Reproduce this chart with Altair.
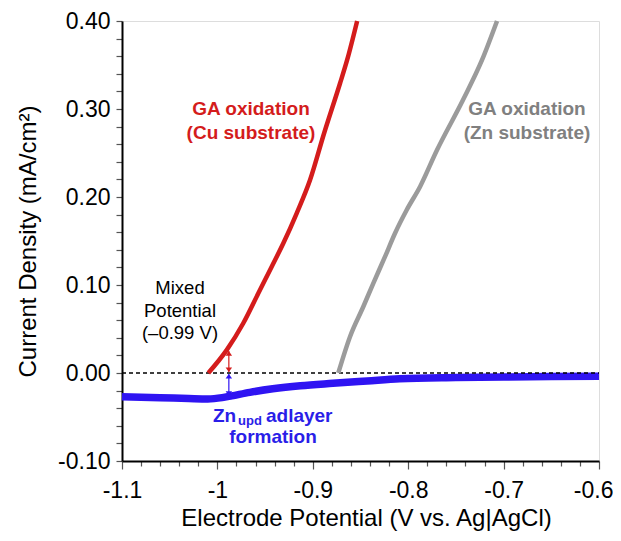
import altair as alt
import pandas as pd

# ---- data ----
cu_v = [-1.0095, -0.9903, -0.9729, -0.9571, -0.9431, -0.9309, -0.9169, -0.9029, -0.888, -0.8715, -0.864, -0.8535]
cu_i = [0.000, 0.026, 0.0565, 0.0906, 0.1208, 0.1474, 0.1815, 0.2193, 0.273, 0.329, 0.3557, 0.400]

zn_v = [-0.8733, -0.8610, -0.8471, -0.8366, -0.8243, -0.8138, -0.8016, -0.7876, -0.7698, -0.7426, -0.7226, -0.7069]
zn_i = [0.000, 0.0413, 0.0753, 0.1019, 0.1322, 0.1588, 0.1852, 0.2117, 0.2534, 0.3102, 0.3557, 0.400]

bl_v = [-1.100, -1.060, -1.030, -1.010, -0.995, -0.985, -0.966, -0.942, -0.913, -0.879, -0.843, -0.809, -0.750, -0.700, -0.650, -0.600]
bl_i = [-0.027, -0.028, -0.029, -0.0295, -0.028, -0.026, -0.022, -0.018, -0.0145, -0.0117, -0.009, -0.0065, -0.0052, -0.0045, -0.004, -0.0037]

zero_v = [-1.1, -0.6]
zero_i = [0.0, 0.0]

x_ticks = [round(-1.1 + 0.02 * k, 2) for k in range(26)]
y_ticks = [round(0.02 * k, 2) for k in range(-5, 21)]

# annotations
cu_text = ["GA oxidation", "(Cu substrate)"]
zn_text = ["GA oxidation", "(Zn substrate)"]
lab_y = [0.300, 0.2727]
mixed_text = ["Mixed", "Potential", "(\u20130.99 V)"]
mixed_y = [0.0966, 0.0705, 0.0455]

RED = "#d41c1c"
GRAY_LINE = "#9b9b9b"
GRAY_TEXT = "#808080"
BLUE = "#2f14f2"
BLUE_TEXT = "#2a1ee8"
FONT = "Liberation Sans"

xs = alt.Scale(domain=[-1.1, -0.6], nice=False, zero=False)
ys = alt.Scale(domain=[-0.1, 0.4], nice=False, zero=False)

major = "abs(datum.value*10 - round(datum.value*10)) < 0.001"

x_axis = alt.Axis(
    values=x_ticks,
    tickCount=200,
    labelExpr=f"{major} ? toString(round(datum.value*10)/10) : ''",
    tickSize={"condition": {"test": major, "value": 8}, "value": 5},
    labelAlign={"condition": {"test": "datum.value > -0.61", "value": "right"}, "value": "center"},
    labelOffset={"condition": {"test": "datum.value > -0.61", "value": 14}, "value": 0},
    labelOverlap=False,
    labelFont=FONT, labelFontSize=23, labelColor="black",
    labelBaseline="middle", labelPadding=21,
    tickColor="#555", tickWidth=1.2,
    domainColor="black", domainWidth=2,
    grid=False,
    title="Electrode Potential (V vs. Ag|AgCl)",
    titleFont=FONT, titleFontSize=24, titleFontWeight="normal", titleColor="black",
    titleX=244, titleY=57, titleBaseline="middle", titleAlign="center",
)
y_axis = alt.Axis(
    values=y_ticks,
    tickCount=200,
    labelExpr=f"{major} ? replace(format(datum.value, '.2f'), '\u2212', '-') : ''",
    tickSize=6,
    labelOverlap=False,
    labelFont=FONT, labelFontSize=23, labelColor="black",
    labelPadding=6,
    tickColor="#555", tickWidth=1.2,
    domainColor="black", domainWidth=2,
    grid=False,
    title="Current Density (mA/cm\u00b2)",
    titleFont=FONT, titleFontSize=24, titleFontWeight="normal", titleColor="black",
    titleX=-94, titleY=220, titleBaseline="middle", titleAlign="center", titleAngle=-90,
)

def line_df(v, i):
    return pd.DataFrame({"v": v, "i": i, "o": list(range(len(v)))})

enc = dict(
    x=alt.X("v:Q", scale=xs, axis=x_axis),
    y=alt.Y("i:Q", scale=ys, axis=y_axis),
    order="o:O",
)

blue = alt.Chart(line_df(bl_v, bl_i)).mark_line(color=BLUE, strokeWidth=7.5, strokeCap="butt", interpolate="monotone").encode(**enc)
zero = alt.Chart(line_df(zero_v, zero_i)).mark_line(color="black", strokeWidth=1.3, strokeDash=[4, 3]).encode(**enc)
red = alt.Chart(line_df(cu_v, cu_i)).mark_line(color=RED, strokeWidth=4.5, interpolate="monotone").encode(**enc)
gray = alt.Chart(line_df(zn_v, zn_i)).mark_line(color=GRAY_LINE, strokeWidth=4.5, interpolate="monotone").encode(**enc)

# double arrows at the mixed potential
arr = pd.DataFrame({"v": [-0.988, -0.988], "top": [0.025, -0.001], "bot": [0.001, -0.026], "c": [RED, BLUE]})
arr_rules = alt.Chart(arr).mark_rule(strokeWidth=1.2).encode(
    x=alt.X("v:Q", scale=xs), y=alt.Y("top:Q", scale=ys), y2="bot:Q",
    color=alt.Color("c:N", scale=None),
)
UP = "M0,0L1,1.45L-1,1.45Z"
DOWN = "M0,0L1,-1.45L-1,-1.45Z"
heads_up = alt.Chart(arr).mark_point(shape=UP, filled=True, size=42, opacity=1).encode(
    x=alt.X("v:Q", scale=xs), y=alt.Y("top:Q", scale=ys), color=alt.Color("c:N", scale=None),
)
heads_dn = alt.Chart(arr).mark_point(shape=DOWN, filled=True, size=42, opacity=1).encode(
    x=alt.X("v:Q", scale=xs), y=alt.Y("bot:Q", scale=ys), color=alt.Color("c:N", scale=None),
)

def text_layer(texts, vs, is_, color, size, weight="bold", align="center"):
    df = pd.DataFrame({"t": texts, "v": vs, "i": is_})
    return alt.Chart(df).mark_text(
        font=FONT, fontSize=size, fontWeight=weight, color=color, align=align, baseline="middle"
    ).encode(x=alt.X("v:Q", scale=xs), y=alt.Y("i:Q", scale=ys), text="t:N")

t_cu = text_layer(cu_text, [-0.9648] * 2, lab_y, RED, 19)
t_zn = text_layer(zn_text, [-0.6755] * 2, lab_y, GRAY_TEXT, 19)
t_mixed = text_layer(mixed_text, [-1.0392] * 3, mixed_y, "black", 18.5, weight="normal")
t_zn_main = text_layer(["Zn", "adlayer"], [-1.0046, -0.9491], [-0.0489, -0.0489], BLUE_TEXT, 19, align="left")
t_zn_sub = text_layer(["upd"], [-0.9784], [-0.0545], BLUE_TEXT, 13, align="left")
t_form = text_layer(["formation"], [-0.9417], [-0.0727], BLUE_TEXT, 19)

chart = alt.layer(
    blue, zero, red, gray, arr_rules, heads_up, heads_dn,
    t_cu, t_zn, t_mixed, t_zn_main, t_zn_sub, t_form,
).properties(
    width=477, height=440,
    autosize=alt.AutoSizeParams(type="none"),
    padding={"left": 114, "top": 13, "right": 14, "bottom": 70},
).configure_view(stroke="black", strokeWidth=2).configure(background="white")

chart.save("out.html", embed_options={"renderer": "svg", "actions": False})
